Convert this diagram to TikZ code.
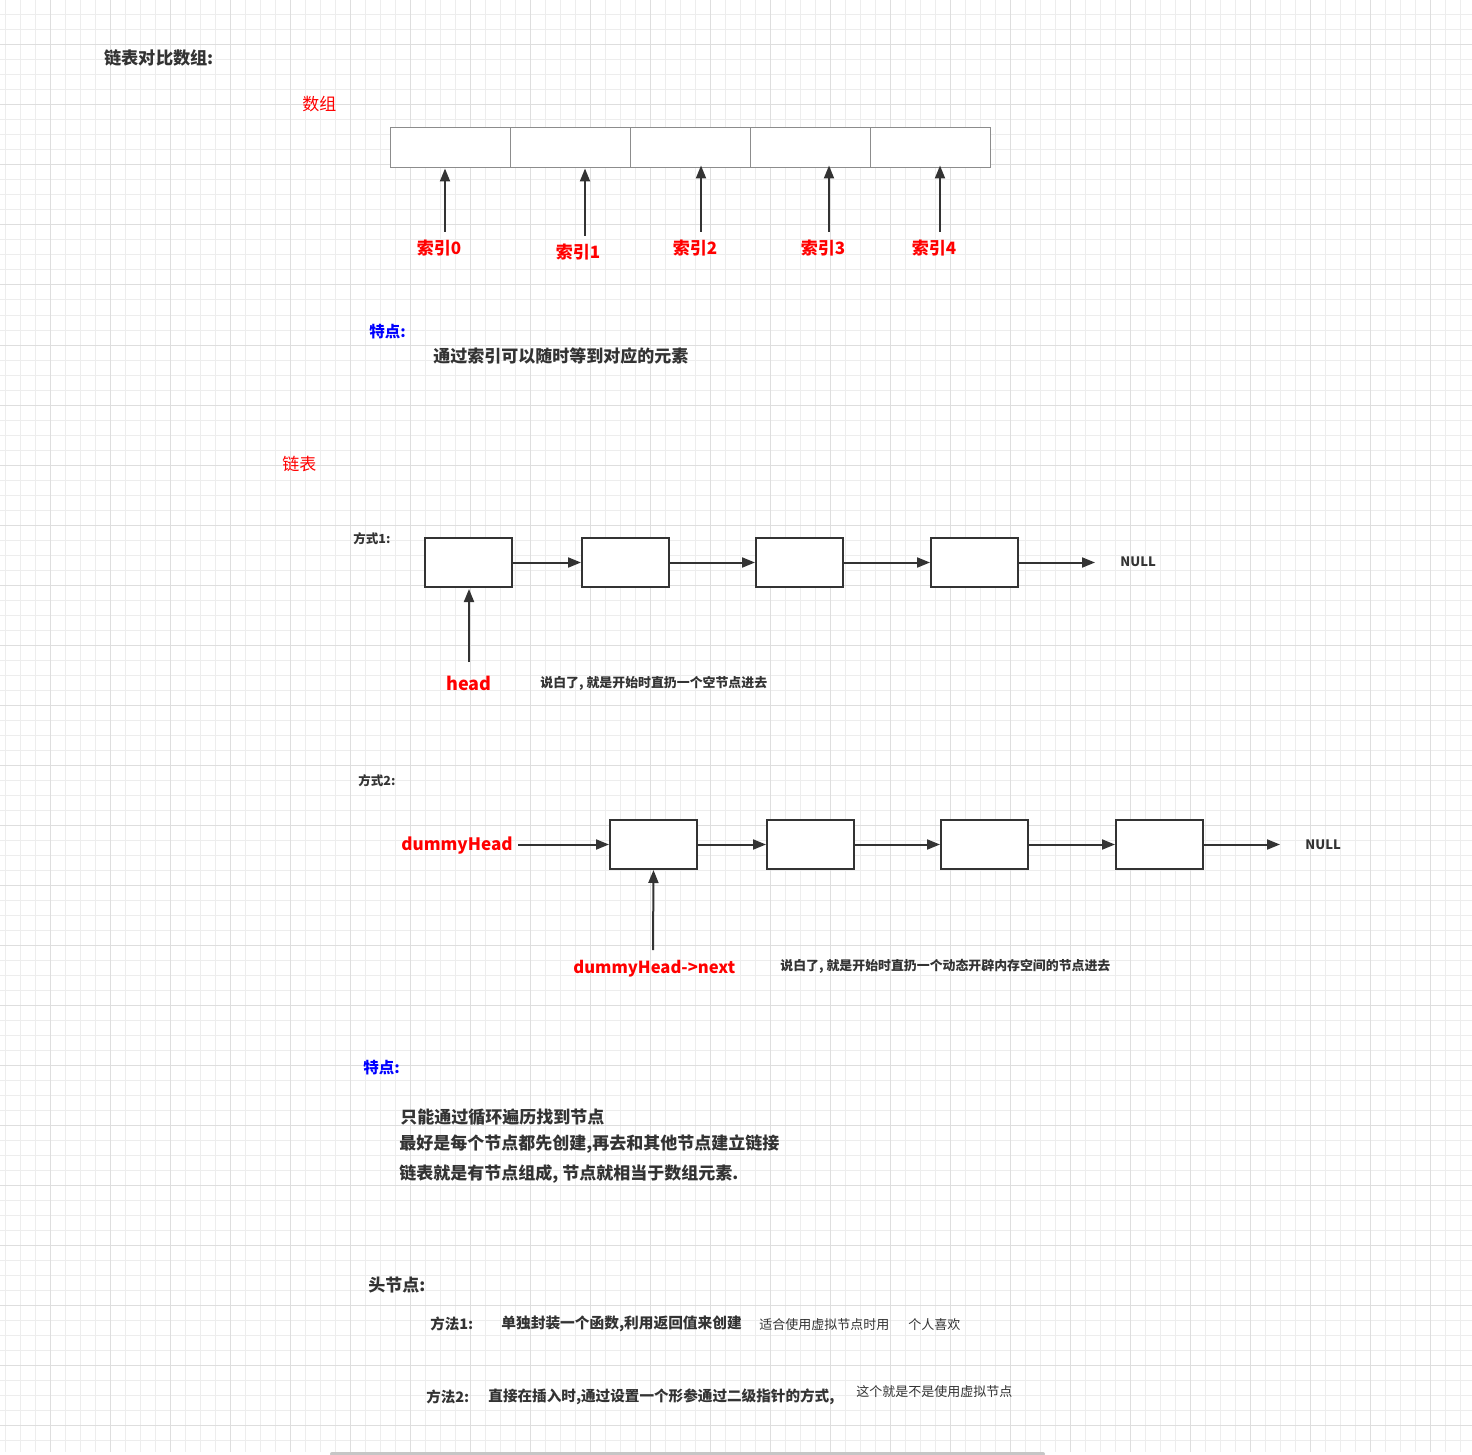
\documentclass[tikz,border=0pt]{standalone}
\usepackage{fontspec}
\setmainfont{Noto Sans CJK SC}
\usetikzlibrary{arrows.meta}
\definecolor{dark}{HTML}{333333}
\definecolor{cellgray}{HTML}{8C8C8C}
\definecolor{gridminor}{HTML}{EDEDED}
\definecolor{gridmajor}{HTML}{DEDEDE}
\newcommand{\fs}[1]{\fontsize{#1pt}{#1pt}\selectfont}
\tikzset{
  txt/.style={inner sep=0pt, anchor=west, text=dark, font=\bfseries},
  redtxt/.style={inner sep=0pt, text=red, font=\bfseries},
  bluetxt/.style={inner sep=0pt, anchor=west, text=blue, font=\bfseries},
  cell/.style={draw=cellgray, line width=0.5pt, fill=white, minimum width=60pt, minimum height=20pt, inner sep=0pt},
  lnode/.style={draw=dark, line width=1pt, fill=white, minimum width=43.5pt, minimum height=24.5pt, inner sep=0pt},
  arr/.style={draw=dark, line width=1pt, -{Triangle[length=6.5pt,width=5pt]}},
}
\begin{document}
\begin{tikzpicture}[x=0.5pt,y=-0.5pt]
\useasboundingbox (0,0) rectangle (1472,1455);
\fill[white] (0,0) rectangle (1472,1455);
% grid
\foreach \x in {5,20,...,1470} \draw[gridminor, line width=0.5pt] (\x,0) -- (\x,1452);
\foreach \y in {0,15,...,1450} \draw[gridminor, line width=0.5pt] (0,\y) -- (1472,\y);
\foreach \x in {50,110,...,1470} \draw[gridmajor, line width=0.5pt] (\x,0) -- (\x,1452);
\foreach \y in {45,105,...,1450} \draw[gridmajor, line width=0.5pt] (0,\y) -- (1472,\y);
\fill[gray!45, rounded corners=1pt] (330,1452) rectangle (1045,1456);

% title
\node[txt, font=\bfseries\fs{8.6}] (title) at (104,58) {链表对比数组:};
\node[redtxt, anchor=west, font=\fs{8.5}] (arrlbl) at (302,104) {数组};

% array
\foreach \i/\cx in {0/450,1/570,2/690,3/810,4/930}
  \node[cell] (c\i) at (\cx,148) {};

\node[redtxt, font=\bfseries\fs{8.5}] (i0) at (439,248) {索引0};
\node[redtxt, font=\bfseries\fs{8.5}] (i1) at (578,252) {索引1};
\node[redtxt, font=\bfseries\fs{8.5}] (i2) at (695,248) {索引2};
\node[redtxt, font=\bfseries\fs{8.5}] (i3) at (823,248) {索引3};
\node[redtxt, font=\bfseries\fs{8.5}] (i4) at (934,248) {索引4};
\coordinate (a0) at (445,232);
\coordinate (a1) at (585,236);
\coordinate (a2) at (701,232);
\coordinate (a3) at (829,232);
\coordinate (a4) at (940,232);
\draw[arr] (a0) -- (c0.south -| a0);
\draw[arr] (a1) -- (c1.south -| a1);
\draw[arr] (a2) -- ([yshift=1.5pt]c2.south -| a2);
\draw[arr] (a3) -- ([yshift=1.5pt]c3.south -| a3);
\draw[arr] (a4) -- ([yshift=1.5pt]c4.south -| a4);

\node[bluetxt, font=\bfseries\fs{7.75}] (feat1) at (369,332) {特点:};
\node[txt, font=\bfseries\fs{8.5}] (feat1t) at (433,356) {通过索引可以随时等到对应的元素};

\node[redtxt, anchor=west, font=\fs{8.5}] (lllbl) at (282,464) {链表};

% way 1
\node[txt, font=\bfseries\fs{6.25}] (w1) at (353,539) {方式1:};
\foreach \i/\cx in {1/468.5,2/625.5,3/799.5,4/974.5}
  \node[lnode] (n\i) at (\cx,562.5) {};
\draw[arr] (n1.east) -- (n2.west);
\draw[arr] (n2.east) -- (n3.west);
\draw[arr] (n3.east) -- (n4.west);
\coordinate (null1a) at (1095,562.5);
\draw[arr] (n4.east) -- (null1a);
\node[txt, font=\bfseries\fs{6.5}] (null1) at (1120,562) {NULL};
\node[redtxt, font=\bfseries\fs{9}] (head) at (469,683) {head};
\coordinate (ha) at (469,662);
\draw[arr] (ha) -- ([yshift=-0.5pt]n1.south -| ha);
\node[txt, font=\bfseries\fs{6.45}] (say1) at (540,683) {说白了, 就是开始时直扔一个空节点进去};

% way 2
\node[txt, font=\bfseries\fs{6.25}] (w2) at (358,781) {方式2:};
\foreach \i/\cx in {1/653.5,2/810.5,3/984.5,4/1159.5}
  \node[lnode] (m\i) at (\cx,844.5) {};
\node[redtxt, anchor=east, font=\bfseries\fs{8.55}] (dh) at (513,846) {dummyHead};
\coordinate (dha) at (518,844.5);
\draw[arr] (dha) -- (m1.west);
\draw[arr] (m1.east) -- (m2.west);
\draw[arr] (m2.east) -- (m3.west);
\draw[arr] (m3.east) -- (m4.west);
\coordinate (null2a) at (1280,844.5);
\draw[arr] (m4.east) -- (null2a);
\node[txt, font=\bfseries\fs{6.5}] (null2) at (1305,845) {NULL};
\node[redtxt, anchor=west, font=\bfseries\fs{8.3}] (dhn) at (573,969) {dummyHead->next};
\coordinate (dna) at (653,950);
\draw[arr] (dna) -- (m1.south);
\node[txt, font=\bfseries\fs{6.45}] (say2) at (780,966) {说白了, 就是开始时直扔一个动态开辟内存空间的节点进去};

% features
\node[bluetxt, font=\bfseries\fs{7.75}] (feat2) at (363,1068) {特点:};
\node[txt, font=\bfseries\fs{8.5}] (f1) at (400,1117) {只能通过循环遍历找到节点};
\node[txt, font=\bfseries\fs{8.5}] (f2) at (399,1144) {最好是每个节点都先创建,再去和其他节点建立链接};
\node[txt, font=\bfseries\fs{8.5}] (f3) at (399,1174) {链表就是有节点组成, 节点就相当于数组元素.};

% head node
\node[txt, font=\bfseries\fs{8.5}] (hn) at (368,1285) {头节点:};
\node[txt, font=\bfseries\fs{7.25}] (m1l) at (430,1324) {方法1:};
\node[txt, font=\bfseries\fs{7.35}] (m1t) at (501,1324) {单独封装一个函数,利用返回值来创建};
\node[txt, font=\fs{6.5}] (m1n) at (759,1325) {适合使用虚拟节点时用};
\node[txt, font=\fs{6.5}] (m1p) at (908,1325) {个人喜欢};
\node[txt, font=\bfseries\fs{7.25}] (m2l) at (426,1397) {方法2:};
\node[txt, font=\bfseries\fs{7.3}] (m2t) at (488,1397) {直接在插入时,通过设置一个形参通过二级指针的方式,};
\node[txt, font=\fs{6.5}] (m2n) at (856,1392) {这个就是不是使用虚拟节点};
\end{tikzpicture}
\end{document}
